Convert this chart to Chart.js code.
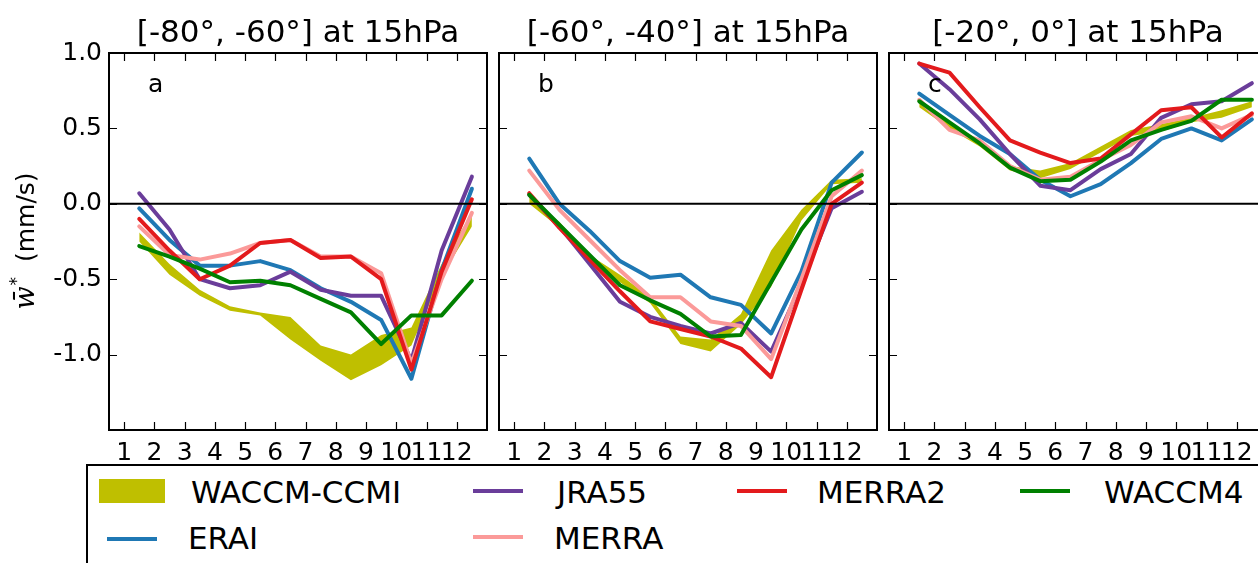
<!DOCTYPE html>
<html>
<head>
<meta charset="utf-8">
<script src="https://cdn.jsdelivr.net/npm/chart.js@4.4.1/dist/chart.umd.min.js"></script>
<style>
body { margin: 0; background: #fff; overflow: hidden; }
#page { position: relative; width: 1258px; height: 563px; overflow: hidden; font-family: 'DejaVu Sans', sans-serif; }
#page canvas { position: absolute; top: 0; }
#legendBox { position: absolute; left: 86px; top: 464px; width: 1300px; height: 200px; border: 2px solid #000; box-sizing: border-box; }
.lg-line { position: absolute; width: 50px; height: 4px; }
.lg-patch { position: absolute; width: 66px; height: 24px; }
.lg-text { position: absolute; font-size: 31px; line-height: 31px; color: #000; white-space: nowrap; }
</style>
</head>
<body>
<div id="page">
    <canvas id="panelA" width="490" height="462" style="left:0px"></canvas>
    <canvas id="panelB" width="390" height="462" style="left:490px"></canvas>
    <canvas id="panelC" width="390" height="462" style="left:880px"></canvas>
    <div id="legendBox"></div>
    <div id="legendItems"></div>
</div>
<script>
const MONTHS = [1, 2, 3, 4, 5, 6, 7, 8, 9, 10, 11, 12];
const MONTH_MID = [1.5, 2.5, 3.5, 4.5, 5.5, 6.5, 7.5, 8.5, 9.5, 10.5, 11.5, 12.5];
const Y_TICKS = [-1.0, -0.5, 0.0, 0.5, 1.0];
const X_MIN = 0.5, X_MAX = 13;
const Y_MIN = -1.5, Y_MAX = 1.0;

const TITLES = ['[-80°, -60°] at 15hPa', '[-60°, -40°] at 15hPa', '[-20°, 0°] at 15hPa'];
const LETTERS = ['a', 'b', 'c'];

// panel a: [-80, -60]
const A_ERAI = [-0.03, -0.24, -0.41, -0.41, -0.38, -0.44, -0.56, -0.65, -0.77, -1.16, -0.44, 0.10];
const A_JRA55 = [0.07, -0.17, -0.50, -0.56, -0.54, -0.45, -0.57, -0.61, -0.61, -1.04, -0.31, 0.18];
const A_MERRA = [-0.15, -0.34, -0.37, -0.33, -0.26, -0.24, -0.35, -0.35, -0.46, -1.06, -0.50, -0.06];
const A_MERRA2 = [-0.10, -0.31, -0.50, -0.41, -0.26, -0.24, -0.36, -0.35, -0.50, -1.10, -0.45, 0.03];
const A_WACCM4 = [-0.28, -0.35, -0.43, -0.52, -0.51, -0.54, -0.63, -0.72, -0.93, -0.74, -0.74, -0.51];
const A_CCMI_LO = [-0.25, -0.47, -0.61, -0.71, -0.74, -0.90, -1.04, -1.17, -1.07, -0.94, -0.48, -0.15];
const A_CCMI_HI = [-0.19, -0.40, -0.57, -0.68, -0.72, -0.75, -0.94, -1.00, -0.87, -0.82, -0.40, -0.06];

// panel b: [-60, -40]
const B_ERAI = [0.30, 0.00, -0.18, -0.38, -0.49, -0.47, -0.62, -0.67, -0.86, -0.45, 0.14, 0.34];
const B_JRA55 = [0.06, -0.15, -0.40, -0.65, -0.75, -0.81, -0.86, -0.79, -0.98, -0.53, -0.03, 0.08];
const B_MERRA = [0.22, -0.04, -0.24, -0.44, -0.62, -0.62, -0.78, -0.81, -1.03, -0.50, 0.05, 0.22];
const B_MERRA2 = [0.07, -0.16, -0.37, -0.58, -0.78, -0.83, -0.88, -0.96, -1.15, -0.57, 0.00, 0.14];
const B_WACCM4 = [0.06, -0.14, -0.34, -0.54, -0.64, -0.73, -0.88, -0.87, -0.52, -0.17, 0.09, 0.19];
const B_CCMI_LO = [0.00, -0.16, -0.38, -0.52, -0.66, -0.93, -0.98, -0.80, -0.55, -0.11, 0.13, 0.14];
const B_CCMI_HI = [0.05, -0.12, -0.34, -0.47, -0.62, -0.88, -0.90, -0.73, -0.31, -0.04, 0.16, 0.17];

// panel c: [-20, 0]
const C_ERAI = [0.73, 0.59, 0.45, 0.33, 0.16, 0.05, 0.13, 0.27, 0.43, 0.50, 0.42, 0.56];
const C_JRA55 = [0.93, 0.76, 0.56, 0.33, 0.12, 0.09, 0.23, 0.33, 0.57, 0.66, 0.68, 0.80];
const C_MERRA = [0.69, 0.49, 0.42, 0.25, 0.16, 0.18, 0.29, 0.39, 0.54, 0.58, 0.50, 0.59];
const C_MERRA2 = [0.93, 0.87, 0.64, 0.42, 0.34, 0.27, 0.30, 0.46, 0.62, 0.64, 0.44, 0.60];
const C_WACCM4 = [0.68, 0.54, 0.40, 0.24, 0.15, 0.16, 0.28, 0.42, 0.49, 0.55, 0.69, 0.69];
const C_CCMI_LO = [0.64, 0.50, 0.38, 0.22, 0.17, 0.23, 0.34, 0.45, 0.48, 0.54, 0.57, 0.64];
const C_CCMI_HI = [0.68, 0.54, 0.42, 0.25, 0.22, 0.27, 0.38, 0.49, 0.53, 0.57, 0.62, 0.68];

const COLORS = {
    'WACCM-CCMI': 'rgb(191, 191, 0)',
    ERAI: '#1f78b4',
    JRA55: '#6a3d9a',
    MERRA: '#fb9a99',
    MERRA2: '#e31a1c',
    WACCM4: '#008000'
};

const FONT = "'DejaVu Sans'";
const TICK_LEN = 8;

function toPoints(vals) {
    return vals.map((v, i) => ({ x: MONTH_MID[i], y: v }));
}

function lineSet(name, vals, order) {
    return {
        label: name,
        data: toPoints(vals),
        borderColor: COLORS[name],
        borderWidth: 4,
        borderJoinStyle: 'round',
        borderCapStyle: 'round',
        pointRadius: 0,
        fill: false,
        order: order
    };
}

const panelFrame = {
    id: 'panelFrame',
    afterDraw(chart, args, opts) {
        const { ctx, chartArea: a, scales } = chart;
        ctx.save();
        ctx.strokeStyle = '#000';
        ctx.lineWidth = 1.2;
        ctx.beginPath();
        MONTHS.forEach(m => {
            const x = Math.round(scales.x.getPixelForValue(m)) + 0.5;
            ctx.moveTo(x, a.bottom);
            ctx.lineTo(x, a.bottom - TICK_LEN);
            ctx.moveTo(x, a.top);
            ctx.lineTo(x, a.top + TICK_LEN);
        });
        Y_TICKS.forEach(v => {
            const y = Math.round(scales.y.getPixelForValue(v)) + 0.5;
            ctx.moveTo(a.left, y);
            ctx.lineTo(a.left + TICK_LEN, y);
            ctx.moveTo(a.right, y);
            ctx.lineTo(a.right - TICK_LEN, y);
        });
        ctx.stroke();

        ctx.lineWidth = 2;
        ctx.strokeRect(a.left, a.top, a.right - a.left, a.bottom - a.top);

        ctx.fillStyle = '#000';
        ctx.textBaseline = 'alphabetic';
        ctx.textAlign = 'center';
        ctx.font = '31px ' + FONT;
        ctx.fillText(opts.title, (a.left + a.right) / 2, 42);

        ctx.textAlign = 'left';
        ctx.font = '25px ' + FONT;
        ctx.fillText(opts.letter, a.left + 39, 92);

        if (opts.yLabel) {
            // w-bar-star (mm/s), rotated
            ctx.translate(34, 241);
            ctx.rotate(-Math.PI / 2);
            const wFont = 'italic 27px "DejaVu Serif"';
            const starFont = '17px ' + FONT;
            const unitFont = '25px ' + FONT;
            ctx.font = wFont;
            const wW = ctx.measureText('w\u0304').width;
            ctx.font = starFont;
            const sW = ctx.measureText('*').width;
            ctx.font = unitFont;
            const uW = ctx.measureText('  (mm/s)').width;
            let x0 = -(wW + sW + uW) / 2;
            ctx.font = wFont;
            ctx.fillText('w\u0304', x0, 0);
            ctx.font = starFont;
            ctx.fillText('*', x0 + wW + 1, -12);
            ctx.font = unitFont;
            ctx.fillText('  (mm/s)', x0 + wW + sW, 0);
        }
        ctx.restore();
    }
};

function makePanel(canvasId, idx, series, yWidth, showYTicks) {
    const ctx = document.getElementById(canvasId).getContext('2d');
    return new Chart(ctx, {
        type: 'line',
        data: {
            datasets: [
                { label: 'WACCM-CCMI low', data: toPoints(series.lo), borderColor: 'rgba(0,0,0,0)', borderWidth: 0, pointRadius: 0, fill: false, order: 8 },
                { label: 'WACCM-CCMI', data: toPoints(series.hi), borderColor: 'rgba(0,0,0,0)', borderWidth: 0, pointRadius: 0, backgroundColor: COLORS['WACCM-CCMI'], fill: '-1', order: 7 },
                lineSet('ERAI', series.erai, 5),
                lineSet('JRA55', series.jra55, 4),
                lineSet('MERRA', series.merra, 3),
                lineSet('MERRA2', series.merra2, 2),
                lineSet('WACCM4', series.waccm4, 1),
                { label: 'zero', data: [{ x: X_MIN, y: 0 }, { x: X_MAX, y: 0 }], borderColor: '#000', borderWidth: 2, pointRadius: 0, fill: false, order: 0 }
            ]
        },
        options: {
            responsive: false,
            animation: false,
            events: [],
            layout: { padding: { top: 53, left: 0, right: 3, bottom: 0 } },
            plugins: {
                legend: { display: false },
                tooltip: { enabled: false },
                panelFrame: { title: TITLES[idx], letter: LETTERS[idx], yLabel: idx === 0 }
            },
            scales: {
                x: {
                    type: 'linear',
                    min: X_MIN,
                    max: X_MAX,
                    grid: { display: false, drawTicks: false },
                    border: { display: false },
                    afterBuildTicks: s => { s.ticks = MONTHS.map(v => ({ value: v })); },
                    afterFit: s => { s.height = 32; },
                    ticks: {
                        autoSkip: false,
                        maxRotation: 0,
                        minRotation: 0,
                        padding: 8,
                        color: '#000',
                        font: { family: 'DejaVu Sans', size: 25 },
                        callback: v => String(v)
                    }
                },
                y: {
                    min: Y_MIN,
                    max: Y_MAX,
                    grid: { display: false, drawTicks: false },
                    border: { display: false },
                    afterBuildTicks: s => { s.ticks = Y_TICKS.map(v => ({ value: v })); },
                    afterFit: s => { s.width = yWidth; },
                    ticks: {
                        display: showYTicks,
                        padding: 7,
                        color: '#000',
                        font: { family: 'DejaVu Sans', size: 25 },
                        callback: v => v.toFixed(1)
                    }
                }
            }
        },
        plugins: [panelFrame]
    });
}

function buildLegend() {
    const items = [
        { name: 'WACCM-CCMI', patch: true, sx: 99, sy: 479, tx: 191, ty: 477 },
        { name: 'ERAI', sx: 107, sy: 537, tx: 188, ty: 523 },
        { name: 'JRA55', sx: 473, sy: 489, tx: 557, ty: 477 },
        { name: 'MERRA', sx: 473, sy: 535, tx: 554, ty: 523 },
        { name: 'MERRA2', sx: 737, sy: 489, tx: 817, ty: 477 },
        { name: 'WACCM4', sx: 1020, sy: 489, tx: 1104, ty: 477 }
    ];
    const box = document.getElementById('legendItems');
    items.forEach(it => {
        const sym = document.createElement('div');
        sym.className = it.patch ? 'lg-patch' : 'lg-line';
        sym.style.left = it.sx + 'px';
        sym.style.top = it.sy + 'px';
        sym.style.background = COLORS[it.name];
        box.appendChild(sym);
        const txt = document.createElement('div');
        txt.className = 'lg-text';
        txt.style.left = it.tx + 'px';
        txt.style.top = it.ty + 'px';
        txt.textContent = it.name;
        box.appendChild(txt);
    });
}

makePanel('panelA', 0, { erai: A_ERAI, jra55: A_JRA55, merra: A_MERRA, merra2: A_MERRA2, waccm4: A_WACCM4, lo: A_CCMI_LO, hi: A_CCMI_HI }, 109, true);
makePanel('panelB', 1, { erai: B_ERAI, jra55: B_JRA55, merra: B_MERRA, merra2: B_MERRA2, waccm4: B_WACCM4, lo: B_CCMI_LO, hi: B_CCMI_HI }, 9, false);
makePanel('panelC', 2, { erai: C_ERAI, jra55: C_JRA55, merra: C_MERRA, merra2: C_MERRA2, waccm4: C_WACCM4, lo: C_CCMI_LO, hi: C_CCMI_HI }, 9, false);
buildLegend();
</script>
</body>
</html>
